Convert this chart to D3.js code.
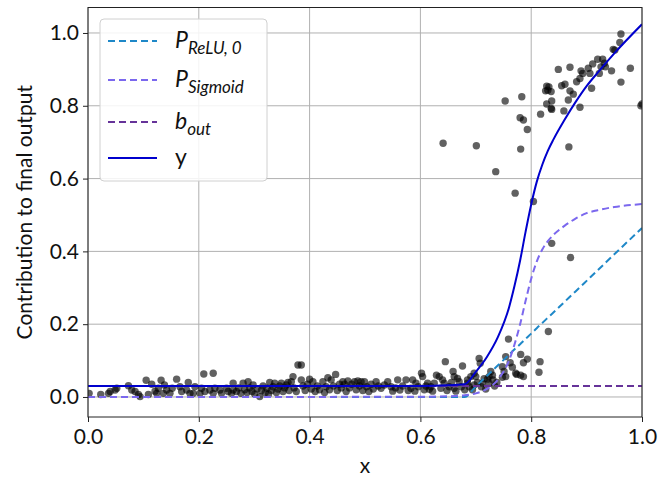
<!DOCTYPE html>
<html>
<head>
<meta charset="utf-8">
<script src="https://cdn.jsdelivr.net/npm/d3@7"></script>
<style>
  html, body { margin: 0; padding: 0; background: #fff; }
  svg { display: block; }
  text { font-family: Lato, "Open Sans", sans-serif; fill: #111; }
</style>
</head>
<body>
<svg id="chart" width="670" height="479"></svg>
<script>
// ---------- data ----------
const xTicks = [0.0, 0.2, 0.4, 0.6, 0.8, 1.0];
const yTicks = [0.0, 0.2, 0.4, 0.6, 0.8, 1.0];

const curveX    = [0, 0.6, 0.65, 0.68, 0.70, 0.72, 0.74, 0.76, 0.77, 0.78, 0.79, 0.80, 0.81, 0.82, 0.83, 0.84, 0.86, 0.88, 0.90, 0.92, 0.95, 1.0];
const pRelu     = [0, 0, 0, 0, 0.029, 0.058, 0.087, 0.116, 0.131, 0.145, 0.160, 0.174, 0.189, 0.203, 0.218, 0.232, 0.261, 0.29, 0.319, 0.348, 0.392, 0.464];
const pSigmoid  = [0, 0.0005, 0.002, 0.005, 0.01, 0.022, 0.048, 0.10, 0.145, 0.20, 0.265, 0.325, 0.372, 0.405, 0.428, 0.445, 0.47, 0.49, 0.505, 0.513, 0.522, 0.530];
const bOut      = [0.03, 0.03, 0.03, 0.03, 0.03, 0.03, 0.03, 0.03, 0.03, 0.03, 0.03, 0.03, 0.03, 0.03, 0.03, 0.03, 0.03, 0.03, 0.03, 0.03, 0.03, 0.03];
const yOut      = [0.03, 0.0305, 0.032, 0.035, 0.069, 0.11, 0.165, 0.246, 0.306, 0.375, 0.455, 0.529, 0.591, 0.638, 0.676, 0.707, 0.761, 0.81, 0.854, 0.891, 0.944, 1.024];

const points = [
 [0.002,0.010],[0.023,0.007],[0.037,0.010],[0.040,0.015],[0.049,0.019],[0.052,0.024],[0.073,0.031],[0.079,0.019],[0.085,0.015],[0.091,0.007],[0.094,0.001],[0.105,0.046],[0.109,0.007],[0.115,0.035],[0.121,0.016],[0.124,0.010],[0.127,0.024],[0.132,0.046],[0.136,0.010],[0.138,0.033],[0.142,0.019],[0.148,0.010],[0.152,0.024],[0.160,0.049],[0.166,0.028],[0.169,0.015],[0.178,0.019],[0.181,0.040],[0.184,0.010],[0.190,0.010],[0.193,0.028],[0.202,0.010],[0.205,0.024],[0.209,0.063],[0.211,0.015],[0.220,0.019],[0.226,0.065],[0.226,0.010],[0.229,0.024],[0.238,0.019],[0.241,0.010],[0.250,0.024],[0.253,0.015],[0.259,0.010],[0.262,0.019],[0.262,0.038],[0.268,0.015],[0.272,0.025],[0.276,0.010],[0.280,0.038],[0.283,0.020],[0.287,0.012],[0.289,0.042],[0.292,0.025],[0.296,0.015],[0.298,0.033],[0.301,0.008],[0.305,0.022],[0.310,0.001],[0.313,0.018],[0.316,0.030],[0.320,0.012],[0.323,0.024],[0.326,0.008],[0.328,0.040],[0.331,0.018],[0.334,0.028],[0.337,0.038],[0.340,0.012],[0.343,0.022],[0.346,0.030],[0.349,0.038],[0.352,0.015],[0.355,0.025],[0.358,0.033],[0.361,0.040],[0.363,0.018],[0.367,0.042],[0.370,0.056],[0.372,0.025],[0.376,0.015],[0.379,0.088],[0.385,0.088],[0.385,0.047],[0.388,0.030],[0.392,0.018],[0.396,0.035],[0.400,0.049],[0.403,0.022],[0.406,0.042],[0.410,0.015],[0.414,0.030],[0.418,0.020],[0.424,0.042],[0.427,0.012],[0.430,0.028],[0.433,0.053],[0.436,0.020],[0.439,0.047],[0.443,0.030],[0.447,0.062],[0.450,0.018],[0.454,0.035],[0.457,0.025],[0.460,0.042],[0.463,0.035],[0.466,0.015],[0.469,0.044],[0.472,0.025],[0.476,0.035],[0.481,0.042],[0.484,0.020],[0.487,0.044],[0.490,0.030],[0.493,0.042],[0.496,0.018],[0.499,0.042],[0.503,0.028],[0.507,0.015],[0.511,0.035],[0.515,0.022],[0.520,0.042],[0.524,0.030],[0.529,0.024],[0.535,0.033],[0.541,0.042],[0.547,0.028],[0.550,0.016],[0.555,0.025],[0.559,0.047],[0.563,0.019],[0.568,0.030],[0.574,0.047],[0.578,0.018],[0.583,0.024],[0.586,0.047],[0.590,0.016],[0.592,0.038],[0.596,0.028],[0.602,0.065],[0.604,0.056],[0.607,0.020],[0.610,0.030],[0.613,0.038],[0.616,0.021],[0.619,0.028],[0.622,0.016],[0.625,0.038],[0.629,0.060],[0.634,0.056],[0.637,0.024],[0.640,0.047],[0.643,0.038],[0.645,0.097],[0.648,0.018],[0.652,0.028],[0.656,0.040],[0.659,0.070],[0.661,0.056],[0.661,0.024],[0.664,0.016],[0.667,0.051],[0.670,0.042],[0.674,0.028],[0.676,0.085],[0.680,0.020],[0.685,0.047],[0.685,0.038],[0.688,0.028],[0.691,0.056],[0.694,0.020],[0.697,0.065],[0.697,0.033],[0.700,0.056],[0.703,0.040],[0.706,0.106],[0.708,0.093],[0.710,0.028],[0.712,0.038],[0.715,0.050],[0.718,0.022],[0.721,0.049],[0.724,0.056],[0.724,0.038],[0.727,0.070],[0.730,0.060],[0.731,0.047],[0.734,0.030],[0.738,0.040],[0.748,0.083],[0.748,0.054],[0.751,0.070],[0.754,0.056],[0.754,0.111],[0.759,0.159],[0.762,0.094],[0.766,0.082],[0.772,0.065],[0.774,0.062],[0.781,0.060],[0.781,0.117],[0.786,0.094],[0.786,0.056],[0.793,0.104],[0.814,0.068],[0.816,0.097],[0.831,0.180],
 [0.641,0.697],[0.701,0.690],[0.736,0.619],[0.753,0.813],[0.771,0.560],[0.780,0.767],[0.781,0.681],[0.783,0.825],[0.786,0.761],[0.793,0.735],[0.804,0.537],[0.817,0.777],[0.826,0.841],[0.828,0.854],[0.828,0.805],[0.830,0.843],[0.832,0.852],[0.836,0.839],[0.836,0.793],[0.837,0.813],[0.837,0.790],[0.837,0.422],[0.849,0.900],[0.855,0.855],[0.859,0.786],[0.861,0.859],[0.867,0.816],[0.868,0.687],[0.870,0.906],[0.870,0.841],[0.871,0.383],[0.876,0.832],[0.882,0.866],[0.888,0.875],[0.888,0.796],[0.890,0.896],[0.893,0.889],[0.903,0.903],[0.906,0.889],[0.909,0.848],[0.911,0.915],[0.920,0.928],[0.923,0.889],[0.926,0.907],[0.929,0.928],[0.932,0.917],[0.934,0.907],[0.945,0.896],[0.948,0.955],[0.951,0.953],[0.960,0.974],[0.962,0.997],[0.962,0.865],[0.979,0.903],[0.998,0.800],[1.0,0.805]
];

const legendItems = [
  { key: "relu", main: "P", sub: "ReLU, 0", color: "#1f88c8", dash: "7,4" },
  { key: "sig",  main: "P", sub: "Sigmoid", color: "#7b68ee", dash: "7,4" },
  { key: "bout", main: "b", sub: "out",     color: "#663399", dash: "7,4" },
  { key: "y",    main: "y", sub: null,      color: "#0000cd", dash: null }
];

// ---------- layout ----------
const svg = d3.select("#chart");
const L = 88, R = 642, T = 7.5, B = 417;
const x = d3.scaleLinear().domain([0, 1]).range([L, R]);
const y = d3.scaleLinear().domain([-0.055, 1.07]).range([B, T]);

// grid
const grid = svg.append("g").attr("stroke", "#b0b0b0").attr("stroke-width", 1);
grid.selectAll(".gx").data(xTicks).join("line")
  .attr("x1", d => x(d)).attr("x2", d => x(d)).attr("y1", T).attr("y2", B);
grid.selectAll(".gy").data(yTicks).join("line")
  .attr("y1", d => y(d)).attr("y2", d => y(d)).attr("x1", L).attr("x2", R);

svg.append("clipPath").attr("id", "clip")
  .append("rect").attr("x", L).attr("y", T).attr("width", R - L).attr("height", B - T);

const plot = svg.append("g").attr("clip-path", "url(#clip)");

// scatter
plot.append("g").selectAll("circle").data(points).join("circle")
  .attr("cx", d => x(d[0])).attr("cy", d => y(d[1])).attr("r", 3.7)
  .attr("fill", "#000").attr("fill-opacity", 0.62);

// curves
const series = { relu: pRelu, sig: pSigmoid, bout: bOut, y: yOut };
const line = d3.line().x(d => x(d[0])).y(d => y(d[1])).curve(d3.curveMonotoneX);
legendItems.forEach(it => {
  const data = curveX.map((cx, i) => [cx, series[it.key][i]]);
  const p = plot.append("path").datum(data)
    .attr("d", line).attr("fill", "none")
    .attr("stroke", it.color).attr("stroke-width", 2);
  if (it.dash) p.attr("stroke-dasharray", it.dash);
});

// axes
const xAxis = d3.axisBottom(x).tickValues(xTicks).tickFormat(d3.format(".1f")).tickSize(5).tickPadding(4);
const yAxis = d3.axisLeft(y).tickValues(yTicks).tickFormat(d3.format(".1f")).tickSize(5).tickPadding(4);
const gx = svg.append("g").attr("transform", `translate(0,${B})`).call(xAxis);
const gy = svg.append("g").attr("transform", `translate(${L},0)`).call(yAxis);
[gx, gy].forEach(g => {
  g.select(".domain").remove();
  g.selectAll(".tick line").attr("stroke", "#222").attr("stroke-width", 1);
  g.selectAll(".tick text").attr("font-size", 21).attr("fill", "#111")
    .style("font-family", "Lato, 'Open Sans', sans-serif");
});
gx.selectAll(".tick text").attr("dy", "0.85em");

// frame
svg.append("rect").attr("x", L).attr("y", T).attr("width", R - L).attr("height", B - T)
  .attr("fill", "none").attr("stroke", "#222").attr("stroke-width", 1);

// axis labels
svg.append("text").attr("x", x(0.5)).attr("y", 473).attr("text-anchor", "middle")
  .attr("font-size", 21).text("x");
svg.append("text").attr("transform", `translate(32,${(T + B) / 2}) rotate(-90)`)
  .attr("text-anchor", "middle").attr("font-size", 21).text("Contribution to final output");

// legend
const lg = svg.append("g");
lg.append("rect").attr("x", 100).attr("y", 19).attr("width", 167).attr("height", 162)
  .attr("rx", 4).attr("fill", "#fff").attr("fill-opacity", 0.85)
  .attr("stroke", "#d0d0d0").attr("stroke-width", 1);
const rowsY = [41, 80, 122, 158];
legendItems.forEach((it, i) => {
  const ry = rowsY[i];
  const ln = lg.append("line").attr("x1", 108).attr("x2", 157).attr("y1", ry).attr("y2", ry)
    .attr("stroke", it.color).attr("stroke-width", 2);
  if (it.dash) ln.attr("stroke-dasharray", it.dash);
  const t = lg.append("text").attr("x", 175).attr("y", ry + 7).attr("font-size", 23);
  if (it.sub) {
    t.append("tspan").attr("font-style", "italic").text(it.main);
    t.append("tspan").attr("font-style", "italic").attr("font-size", 17).attr("dy", 6).text(it.sub);
  } else {
    t.text(it.main);
  }
});
</script>
</body>
</html>
